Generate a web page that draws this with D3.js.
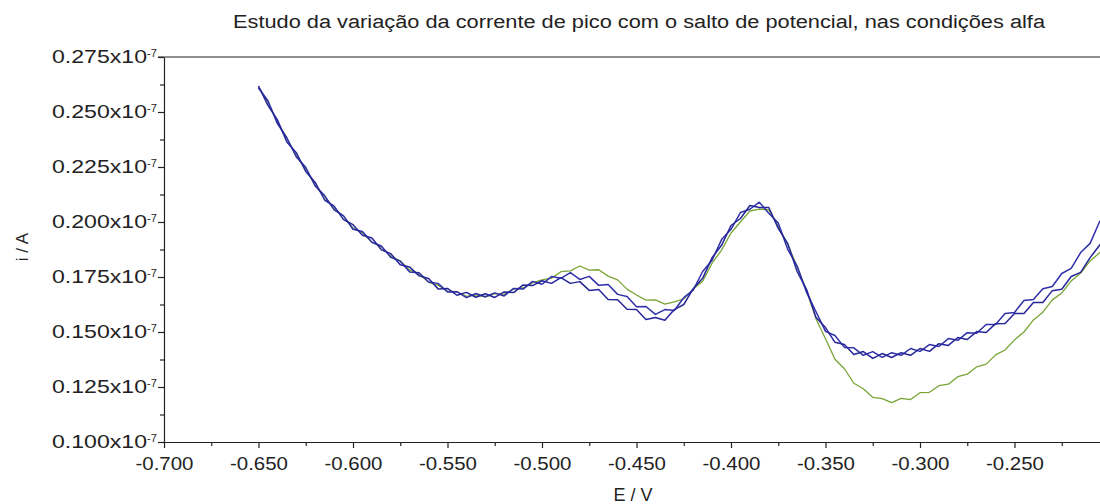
<!DOCTYPE html>
<html>
<head>
<meta charset="utf-8">
<script src="https://cdn.jsdelivr.net/npm/d3@7"></script>
<style>
  body { margin: 0; background: #fff; }
  text { font-family: "Liberation Sans", Arial, sans-serif; fill: #222; }
</style>
</head>
<body>
<div id="chart"></div>
<script>
// Potential (V) of each sample point
var potential = [
  -0.650, -0.645, -0.640, -0.635, -0.630, -0.625, -0.620, -0.615, -0.610, -0.605,
  -0.600, -0.595, -0.590, -0.585, -0.580, -0.575, -0.570, -0.565, -0.560, -0.555,
  -0.550, -0.545, -0.540, -0.535, -0.530, -0.525, -0.520, -0.515, -0.510, -0.505,
  -0.500, -0.495, -0.490, -0.485, -0.480, -0.475, -0.470, -0.465, -0.460, -0.455,
  -0.450, -0.445, -0.440, -0.435, -0.430, -0.425, -0.420, -0.415, -0.410, -0.405,
  -0.400, -0.395, -0.390, -0.385, -0.380, -0.375, -0.370, -0.365, -0.360, -0.355,
  -0.350, -0.345, -0.340, -0.335, -0.330, -0.325, -0.320, -0.315, -0.310, -0.305,
  -0.300, -0.295, -0.290, -0.285, -0.280, -0.275, -0.270, -0.265, -0.260, -0.255,
  -0.250, -0.245, -0.240, -0.235, -0.230, -0.225, -0.220, -0.215, -0.210, -0.205,
  -0.200
];

// current, in units of 10^-7 A
var greenRun = [
  0.2614, 0.2546, 0.2453, 0.2381, 0.2300, 0.2242, 0.2165, 0.2114, 0.2062, 0.2027,
  0.1972, 0.1951, 0.1908, 0.1887, 0.1845, 0.1824, 0.1781, 0.1764, 0.1726, 0.1713,
  0.1686, 0.1683, 0.1662, 0.1669, 0.1659, 0.1674, 0.1671, 0.1696, 0.1700, 0.1723,
  0.1737, 0.1745, 0.1774, 0.1778, 0.1800, 0.1781, 0.1783, 0.1754, 0.1737, 0.1695,
  0.1668, 0.1645, 0.1646, 0.1627, 0.1637, 0.1651, 0.1695, 0.1731, 0.1813, 0.1872,
  0.1950, 0.2000, 0.2050, 0.2059, 0.2055, 0.1981, 0.1900, 0.1795, 0.1687, 0.1559,
  0.1469, 0.1376, 0.1333, 0.1267, 0.1242, 0.1203, 0.1197, 0.1179, 0.1198, 0.1193,
  0.1224, 0.1226, 0.1256, 0.1263, 0.1297, 0.1308, 0.1342, 0.1354, 0.1396, 0.1418,
  0.1464, 0.1500, 0.1555, 0.1590, 0.1646, 0.1677, 0.1732, 0.1768, 0.1823, 0.1860,
  0.1905
];

var blueRunA = [
  0.2609, 0.2551, 0.2447, 0.2383, 0.2296, 0.2249, 0.2164, 0.2120, 0.2055, 0.2028,
  0.1967, 0.1957, 0.1908, 0.1891, 0.1839, 0.1822, 0.1773, 0.1769, 0.1727, 0.1721,
  0.1682, 0.1683, 0.1656, 0.1675, 0.1660, 0.1678, 0.1664, 0.1698, 0.1695, 0.1730,
  0.1717, 0.1752, 0.1744, 0.1770, 0.1739, 0.1753, 0.1712, 0.1716, 0.1671, 0.1661,
  0.1615, 0.1616, 0.1580, 0.1602, 0.1598, 0.1656, 0.1690, 0.1775, 0.1826, 0.1920,
  0.1967, 0.2043, 0.2058, 0.2090, 0.2040, 0.1995, 0.1876, 0.1800, 0.1680, 0.1592,
  0.1503, 0.1484, 0.1430, 0.1428, 0.1394, 0.1411, 0.1385, 0.1406, 0.1394, 0.1425,
  0.1412, 0.1443, 0.1434, 0.1470, 0.1462, 0.1497, 0.1494, 0.1534, 0.1534, 0.1584,
  0.1589, 0.1643, 0.1648, 0.1697, 0.1707, 0.1766, 0.1789, 0.1861, 0.1903, 0.2001,
  0.2045
];

var blueRunB = [
  0.2618, 0.2530, 0.2464, 0.2364, 0.2315, 0.2230, 0.2180, 0.2100, 0.2072, 0.2011,
  0.1988, 0.1940, 0.1927, 0.1874, 0.1856, 0.1806, 0.1795, 0.1755, 0.1743, 0.1696,
  0.1698, 0.1667, 0.1680, 0.1658, 0.1674, 0.1657, 0.1682, 0.1679, 0.1714, 0.1711,
  0.1733, 0.1721, 0.1747, 0.1721, 0.1729, 0.1689, 0.1693, 0.1648, 0.1647, 0.1603,
  0.1602, 0.1557, 0.1566, 0.1553, 0.1602, 0.1625, 0.1697, 0.1744, 0.1838, 0.1894,
  0.1984, 0.2016, 0.2075, 0.2066, 0.2066, 0.1971, 0.1902, 0.1775, 0.1693, 0.1566,
  0.1520, 0.1453, 0.1443, 0.1398, 0.1411, 0.1380, 0.1402, 0.1384, 0.1406, 0.1394,
  0.1425, 0.1412, 0.1447, 0.1439, 0.1475, 0.1466, 0.1502, 0.1498, 0.1538, 0.1539,
  0.1584, 0.1584, 0.1634, 0.1634, 0.1688, 0.1694, 0.1752, 0.1771, 0.1838, 0.1894,
  0.1955
];

var xTicks = [-0.700, -0.650, -0.600, -0.550, -0.500, -0.450, -0.400, -0.350, -0.300, -0.250];
var xMinorTicks = [-0.675, -0.625, -0.575, -0.525, -0.475, -0.425, -0.375, -0.325, -0.275, -0.225];
var yTicks = [0.100, 0.125, 0.150, 0.175, 0.200, 0.225, 0.250, 0.275];
var yMinorTicks = [0.1125, 0.1375, 0.1625, 0.1875, 0.2125, 0.2375, 0.2625];

var svgWidth = 1100;
var svgHeight = 504;

var svg = d3.select("#chart")
  .append("svg")
  .attr("width", svgWidth)
  .attr("height", svgHeight);

var xScale = d3.scaleLinear()
  .domain([-0.700, -0.200])
  .range([164, 1109]);

var yScale = d3.scaleLinear()
  .domain([0.100, 0.275])
  .range([442, 57]);

// curves
var series = [
  { values: greenRun, color: "#78a534", width: 1.3 },
  { values: blueRunA, color: "#3030aa", width: 1.5 },
  { values: blueRunB, color: "#26269a", width: 1.5 }
];

var line = d3.line()
  .x(function(d, i) { return xScale(potential[i]); })
  .y(function(d) { return yScale(d); });

svg.selectAll("path.curve")
  .data(series)
  .enter()
  .append("path")
  .attr("class", "curve")
  .attr("fill", "none")
  .attr("stroke", d => d.color)
  .attr("stroke-width", d => d.width)
  .attr("stroke-linejoin", "round")
  .attr("d", d => line(d.values));

// x axis
var bottomAxis = d3.axisBottom(xScale)
  .tickValues(xTicks)
  .tickSizeInner(6)
  .tickSizeOuter(0)
  .tickPadding(9)
  .tickFormat(d => d3.format(".3f")(d).replace("−", "-"));

var xAxis = svg.append("g")
  .attr("transform", "translate(0, 442)")
  .call(bottomAxis);

xAxis.selectAll("text")
  .attr("fill", "#222")
  .style("font-size", "18px")
  .attr("textLength", 58)
  .attr("lengthAdjust", "spacingAndGlyphs");

var xMinor = svg.append("g")
  .attr("transform", "translate(0, 442)")
  .call(d3.axisBottom(xScale).tickValues(xMinorTicks).tickSize(4).tickFormat(""));
xMinor.select(".domain").remove();

// y axis
var leftAxis = d3.axisLeft(yScale)
  .tickValues(yTicks)
  .tickSizeInner(6)
  .tickSizeOuter(0)
  .tickFormat("");

var yAxis = svg.append("g")
  .attr("transform", "translate(164, 0)")
  .call(leftAxis);

var yMinor = svg.append("g")
  .attr("transform", "translate(164, 0)")
  .call(d3.axisLeft(yScale).tickValues(yMinorTicks).tickSize(4).tickFormat(""));
yMinor.select(".domain").remove();

[xAxis, yAxis, xMinor, yMinor].forEach(function(ax) {
  ax.selectAll("path, line").attr("stroke", "#222").attr("stroke-width", 1.2);
});

// y tick labels with the 10^-7 exponent
var yLabels = svg.append("g");
yTicks.forEach(function(t) {
  var y = yScale(t);
  yLabels.append("text")
    .attr("x", 147)
    .attr("y", y + 6)
    .attr("text-anchor", "end")
    .style("font-size", "18px")
    .attr("textLength", 95)
    .attr("lengthAdjust", "spacingAndGlyphs")
    .text(d3.format(".3f")(t) + "x10");
  yLabels.append("text")
    .attr("x", 147)
    .attr("y", y)
    .style("font-size", "11px")
    .text("-7");
});

// top frame line
svg.append("line")
  .attr("x1", 158).attr("x2", 1109)
  .attr("y1", yScale(0.275)).attr("y2", yScale(0.275))
  .attr("stroke", "#222")
  .attr("stroke-width", 1.2);

// title and axis labels
svg.append("text")
  .attr("x", 233)
  .attr("y", 28)
  .style("font-size", "18px")
  .attr("textLength", 812)
  .attr("lengthAdjust", "spacingAndGlyphs")
  .text("Estudo da variação da corrente de pico com o salto de potencial, nas condições alfa");

svg.append("text")
  .attr("x", 633)
  .attr("y", 501)
  .attr("text-anchor", "middle")
  .style("font-size", "18px")
  .text("E / V");

svg.append("text")
  .attr("transform", "translate(28, 247) rotate(-90)")
  .attr("text-anchor", "middle")
  .style("font-size", "17px")
  .text("i / A");
</script>
</body>
</html>
